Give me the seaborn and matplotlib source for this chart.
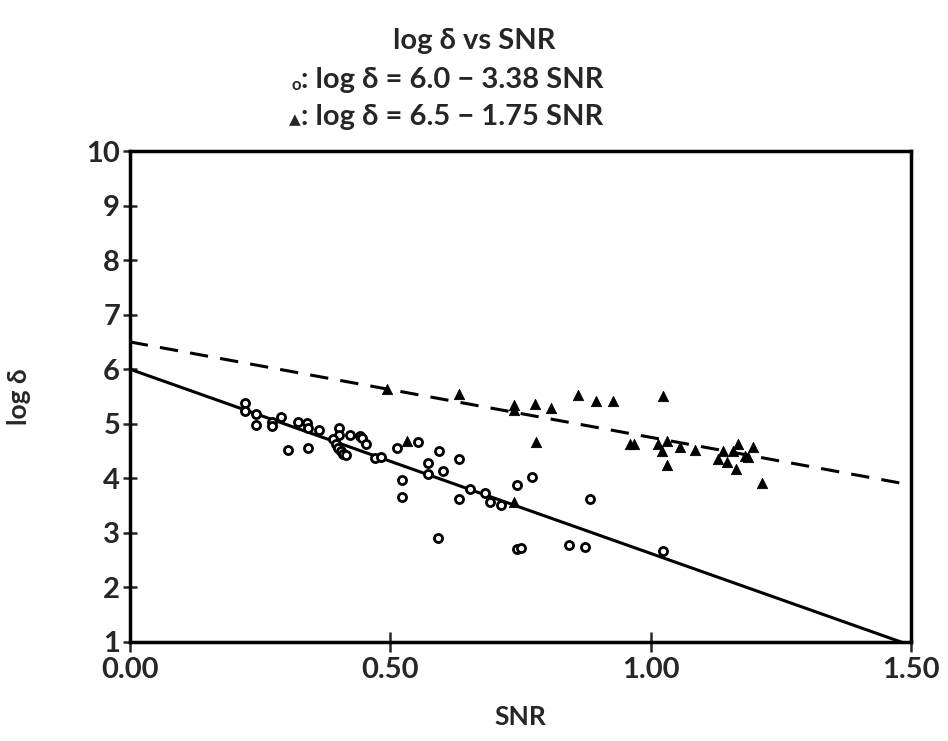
import numpy as np
import matplotlib
matplotlib.use("Agg")
import matplotlib.pyplot as plt
from matplotlib.ticker import MultipleLocator
import seaborn as sb

sb.set_style("white")
plt.rcParams['font.family'] = ['Lato', 'DejaVu Sans']
plt.rcParams['font.weight'] = 'bold'
plt.rcParams['axes.labelweight'] = 'bold'

# open circles
circ_x = [0.221, 0.221, 0.242, 0.242, 0.272, 0.272, 0.291, 0.303, 0.322, 0.341,
          0.342, 0.342, 0.363, 0.401, 0.401, 0.390, 0.395, 0.400, 0.405, 0.410,
          0.415, 0.423, 0.442, 0.445, 0.453, 0.471, 0.483, 0.513, 0.522, 0.522,
          0.554, 0.572, 0.573, 0.592, 0.593, 0.602, 0.632, 0.632, 0.653, 0.682,
          0.691, 0.712, 0.743, 0.743, 0.752, 0.773, 0.844, 0.874, 0.883, 1.024]
circ_y = [5.38, 5.23, 5.18, 4.98, 5.04, 4.96, 5.12, 4.52, 5.03, 5.02,
          4.92, 4.55, 4.88, 4.92, 4.80, 4.72, 4.62, 4.55, 4.50, 4.45,
          4.42, 4.80, 4.78, 4.74, 4.62, 4.37, 4.39, 4.55, 3.96, 3.66,
          4.67, 4.27, 4.07, 2.90, 4.49, 4.13, 4.35, 3.62, 3.80, 3.72,
          3.57, 3.50, 3.87, 2.70, 2.72, 4.02, 2.77, 2.74, 3.61, 2.67]

# filled triangles
tri_x = [0.493, 0.533, 0.632, 0.737, 0.737, 0.737, 0.778, 0.779, 0.808, 0.861,
         0.896, 0.927, 0.960, 0.968, 1.015, 1.021, 1.024, 1.031, 1.031, 1.056,
         1.085, 1.130, 1.138, 1.147, 1.159, 1.163, 1.168, 1.181, 1.187, 1.197, 1.213]
tri_y = [5.64, 4.68, 5.55, 5.35, 5.26, 3.57, 5.37, 4.66, 5.29, 5.53,
         5.41, 5.41, 4.63, 4.63, 4.62, 4.49, 5.50, 4.68, 4.24, 4.57,
         4.51, 4.35, 4.49, 4.29, 4.49, 4.17, 4.63, 4.40, 4.39, 4.57, 3.91]

# fitted lines: log d = a - b SNR
fit_a = [6.0, 6.5]
fit_b = [3.38, 1.75]

fig = plt.figure(figsize=(9.48, 7.41), dpi=100)
ax = fig.add_axes([0.137, 0.134, 0.824, 0.662])

xs = np.array([0.0, 1.5])
sb.lineplot(x=xs, y=fit_a[0] - fit_b[0]*xs, ax=ax, color='black', lw=2.2)
sb.lineplot(x=xs, y=fit_a[1] - fit_b[1]*xs, ax=ax, color='black', lw=2.2,
            linestyle=(0, (6, 4)))

sb.scatterplot(x=circ_x, y=circ_y, ax=ax, marker='o', s=34, facecolor='white',
               edgecolor='black', linewidth=2.0, zorder=3)
sb.scatterplot(x=tri_x, y=tri_y, ax=ax, marker='^', s=55, color='black',
               edgecolor='black', zorder=3)

ax.set_xlim(0, 1.5)
ax.set_ylim(1, 10)
ax.set_xticks([0, 0.5, 1.0, 1.5])
ax.set_xticklabels(['0.00', '0.50', '1.00', '1.50'])
ax.xaxis.set_minor_locator(MultipleLocator(0.1))
ax.set_yticks(range(1, 11))
ax.tick_params(axis='x', which='major', direction='inout', length=14, width=1.8,
               labelsize=21, pad=4)
ax.tick_params(axis='x', which='minor', direction='inout', length=8, width=1.5)
ax.tick_params(axis='y', which='major', direction='inout', length=10, width=1.8,
               labelsize=21, pad=2, left=True)
ax.tick_params(axis='x', bottom=True)
for s in ax.spines.values():
    s.set_linewidth(2.5)
    s.set_color('black')

ax.set_xlabel('SNR', fontsize=19, labelpad=16)
ax.set_ylabel('log δ', fontsize=19, labelpad=40)

fig.text(0.5, 0.945, 'log δ vs SNR', ha='center', va='center', fontsize=21)
fig.text(0.318, 0.892, ': log δ = 6.0 − 3.38 SNR', ha='left', va='center', fontsize=21)
fig.text(0.318, 0.842, ': log δ = 6.5 − 1.75 SNR', ha='left', va='center', fontsize=21)
fig.text(0.317, 0.885, 'o', ha='right', va='center', fontsize=12)
fig.text(0.317, 0.838, '▲', ha='right', va='center', fontsize=11,
         family=['DejaVu Sans'])

fig.savefig('out.png', dpi=100)
